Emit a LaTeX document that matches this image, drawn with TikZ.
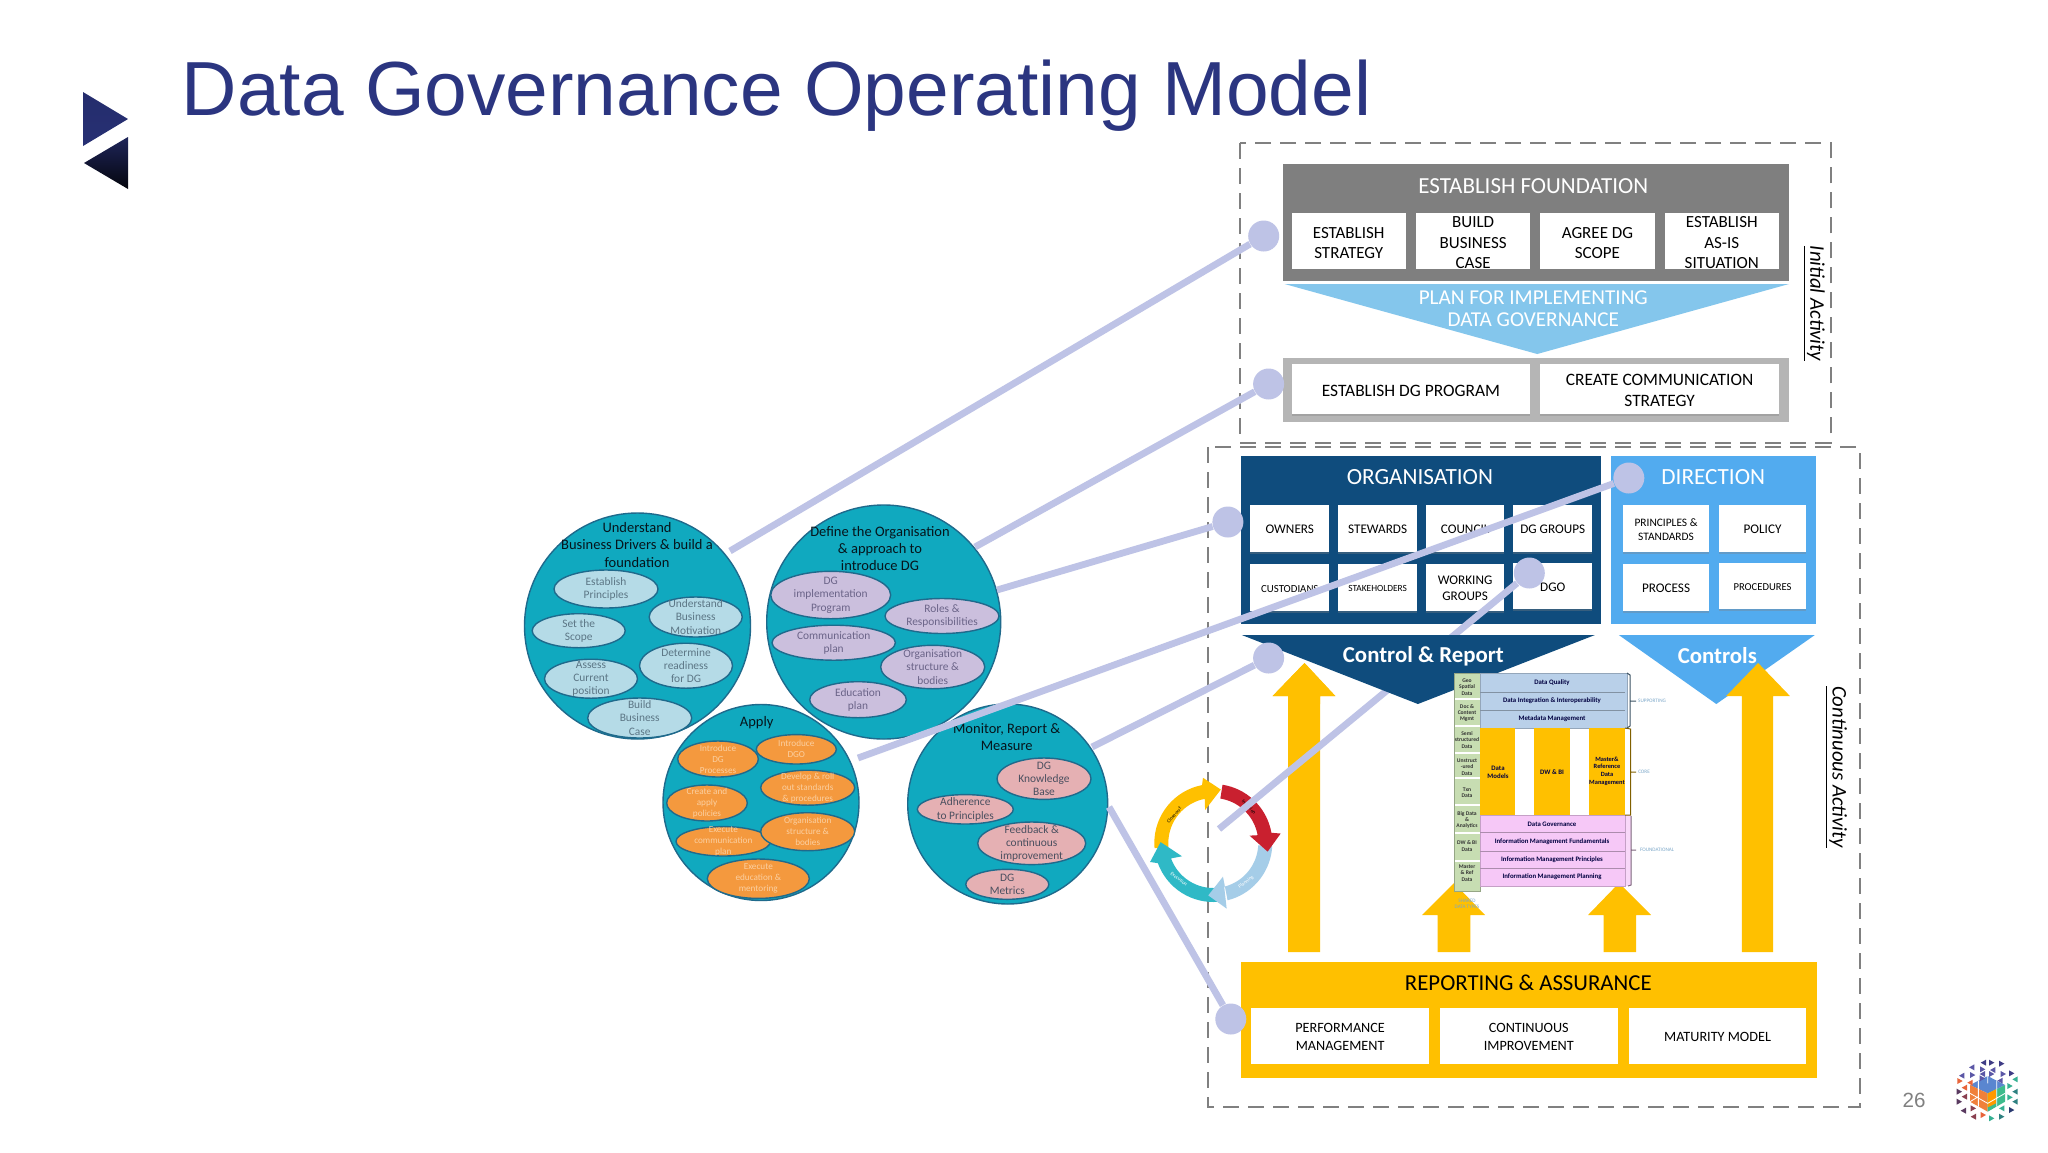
\documentclass[tikz,border=0pt]{standalone}
\usepackage{fontspec}
\setmainfont{Carlito}
\newfontfamily\arialf{Liberation Sans}
\usetikzlibrary{shapes.geometric,shadows}
\definecolor{tealc}{HTML}{10A9BF}
\definecolor{tealb}{HTML}{1F6A8C}
\definecolor{navyc}{HTML}{0F4C7D}
\definecolor{skyc}{HTML}{52ABEF}
\definecolor{pale}{HTML}{84C6EC}
\definecolor{yelc}{HTML}{FFC000}
\definecolor{lnk}{HTML}{BEC3E6}
\definecolor{titlec}{HTML}{2B3580}
\definecolor{greyd}{HTML}{7F7F7F}
\definecolor{greyl}{HTML}{B5B5B5}
\definecolor{dashc}{HTML}{808080}
\definecolor{steel}{HTML}{7BA7C9}
\definecolor{blk}{HTML}{B9D0E9}
\definecolor{pnk}{HTML}{F6C8F7}
\definecolor{grn}{HTML}{C7DDB2}
\definecolor{ap}{HTML}{3F3C85}
\definecolor{al}{HTML}{5B57A6}
\definecolor{ao}{HTML}{E8643A}
\definecolor{ar}{HTML}{8A4050}
\definecolor{ag}{HTML}{35B092}
\definecolor{ad}{HTML}{2E8080}
\definecolor{an}{HTML}{2A3A70}
\definecolor{am}{HTML}{5A3A60}
\definecolor{cubeb}{HTML}{5A86D0}
\definecolor{cubeo}{HTML}{F0803A}
\definecolor{cubeg}{HTML}{3DBB8C}
\definecolor{bA}{HTML}{B5DBE7}
\definecolor{bB}{HTML}{CBBFDD}
\definecolor{bC}{HTML}{F4993E}
\definecolor{bD}{HTML}{E5B0B3}
\definecolor{tA}{HTML}{5C7685}
\definecolor{tB}{HTML}{6B6488}
\definecolor{tC}{HTML}{FBCFA0}
\definecolor{tD}{HTML}{4A4F5F}
\definecolor{rteal}{HTML}{2FB9C6}
\definecolor{rred}{HTML}{C9202F}
\definecolor{rblue}{HTML}{A5CDE8}
\tikzset{
  ft/.style 2 args={font=\fontsize{#1pt}{#2pt}\selectfont},
  dashbox/.style={draw=dashc,line width=1pt,dash pattern=on 8pt off 4.5pt},
  wbox/.style={fill=white,drop shadow={opacity=.35,shadow xshift=0pt,shadow yshift=-0.8pt}},
  dot/.style={circle,fill=lnk,minimum size=15.5pt,inner sep=0pt},
  conn/.style={draw=lnk,line width=3.4pt},
  bigc/.style={circle,fill=tealc,draw=tealb,line width=.7pt,inner sep=0pt},
  bubA/.style={fill=#1,draw=tealb,line width=.7pt},
  ctitle/.style={ft={7.25}{8.7},text=black!80!tealb,align=center},
  txtA/.style={ft={5.7}{6.65},text=tA,align=center},
  txtB/.style={ft={5.7}{6.65},text=tB,align=center},
  txtC/.style={ft={4.6}{5.5},text=tC,align=center},
  txtD/.style={ft={5.7}{6.65},text=tD,align=center},
  tiny/.style={font=\bfseries\fontsize{3.4pt}{4pt}\selectfont,text=black!75!blue,align=center},
  tinyg/.style={font=\bfseries\fontsize{2.8pt}{3.15pt}\selectfont,text=black!80,align=center},
  side/.style={font=\fontsize{2.6pt}{3.2pt}\selectfont,text=steel,align=center},
}
\newcommand{\bxx}[8]{%
  \node[#6,minimum width={(#4-#2)*0.5pt},minimum height={(#5-#3)*0.5pt},inner sep=0pt] (#1) at ({(#2+#4)/2},{(#3+#5)/2}) {};
  \node[align=center,inner sep=0pt,yshift=-.6pt,#7] (#1t) at (#1) {#8};}
\newcommand{\bub}[8]{%
  \node[ellipse,bubA=#6,minimum width={#4*1pt},minimum height={#5*1pt},inner sep=0pt] (#1) at (#2,#3) {};
  \node[inner sep=0pt,#7] (#1t) at (#1) {#8};}
\newcommand{\ringarr}[9]{%
  \fill[#1] plot[domain=#2:#3,samples=18] ({1213.3+59*cos(\x)},{843-59*sin(\x)})
   -- ({1213.3+#4*cos(#5)},{843-#4*sin(#5)})
   -- ({1213.3+#6*cos(#7)},{843-#6*sin(#7)})
   -- ({1213.3+#8*cos(#9)},{843-#8*sin(#9)})
   -- plot[domain=#3:#2,samples=18] ({1213.3+45*cos(\x)},{843-45*sin(\x)}) -- cycle;}
% logo triangle in the logo scope: u v direction(+1 right,-1 left) colour
\newcommand{\tri}[4]{%
  \fill[#4] ({#1-#3*8},{#2-9}) -- ({#1+#3*8},{#2}) -- ({#1-#3*8},{#2+9}) -- cycle;}
\begin{document}
\begin{tikzpicture}[x=0.5pt,y=-0.5pt]
\useasboundingbox (0,0) rectangle (2048,1152);
\fill[white] (0,0) rectangle (2048,1152);
% logo top left
\shade[top color=titlec!85!black,bottom color=titlec!90!black] (83,92) -- (128,119) -- (83,146) -- cycle;
\shade[top color=titlec!70!black,bottom color=black!90!titlec] (128,137) -- (84,163) -- (128,189) -- cycle;
\node[font=\arialf\fontsize{38.35pt}{40pt}\selectfont,text=titlec,anchor=base west,inner sep=0pt] (title) at (181.5,115) {Data Governance Operating Model};
% dashed frames
\draw[dashbox] (1240.3,143) rectangle (1830.7,443);
\draw[dashbox] (1208,447) rectangle (1859.6,1107);
\node[rotate=-90,font=\itshape\fontsize{10.4pt}{12pt}\selectfont,inner sep=0pt] (lblinit) at (1814,303.5) {\underline{Initial Activity}};
\node[rotate=-90,font=\itshape\fontsize{10.4pt}{12pt}\selectfont,inner sep=0pt] (lblcont) at (1836,767) {\underline{Continuous Activity}};
% foundation
\bxx{found}{1282.6}{164}{1788.9}{281}{fill=greyd}{ft={11.5}{13},text=white}{}
\node[ft={11.5}{13},text=white,inner sep=0pt] (foundt2) at (1533.3,186) {ESTABLISH FOUNDATION};
\bxx{f1}{1291.5}{213}{1405.9}{269}{wbox}{ft={8.5}{10.25},yshift=-.5pt}{ESTABLISH\\STRATEGY}
\bxx{f2}{1415.9}{213}{1530.3}{269}{wbox}{ft={8.5}{10.25},yshift=-.4pt}{BUILD\\BUSINESS\\CASE}
\bxx{f3}{1540.2}{213}{1654.6}{269}{wbox}{ft={8.5}{10.25},yshift=-.5pt}{AGREE DG\\SCOPE}
\bxx{f4}{1664.6}{213}{1779}{269}{wbox}{ft={8.5}{10.25},yshift=-.4pt}{ESTABLISH\\AS-IS\\SITUATION}
\fill[pale] (1284.6,284) -- (1788.9,284) -- (1537.2,354) -- cycle;
\node[ft={10.6}{11},text=white,align=center,inner sep=0pt] (plan) at (1533.3,309) {PLAN FOR IMPLEMENTING\\DATA GOVERNANCE};
\bxx{prog}{1282.6}{358}{1788.9}{422}{fill=greyl}{ft={8}{9}}{}
\bxx{p1}{1291.5}{364}{1530.3}{414}{wbox}{ft={8.7}{10.25},yshift=-.6pt}{ESTABLISH DG PROGRAM}
\bxx{p2}{1540.2}{364}{1779}{414}{wbox}{ft={8.7}{10.45},yshift=-.2pt}{CREATE COMMUNICATION\\STRATEGY}
% organisation
\bxx{org}{1240.8}{456}{1600.9}{624}{fill=navyc}{ft={11.6}{13}}{}
\node[ft={11.6}{13},text=white,inner sep=0pt] (orgh) at (1419.9,477) {ORGANISATION};
\bxx{o1}{1250.3}{505}{1329.3}{552}{wbox}{ft={6.6}{8}}{OWNERS}
\bxx{o2}{1338.3}{505}{1416.9}{552}{wbox}{ft={6.6}{8}}{STEWARDS}
\bxx{o3}{1425.8}{505}{1504.4}{552}{wbox}{ft={6.6}{8}}{COUNCIL}
\bxx{o4}{1513.4}{505}{1592}{552}{wbox}{ft={6.6}{8}}{DG GROUPS}
\bxx{o5}{1250.3}{564}{1329.3}{611}{wbox}{ft={5.4}{7}}{CUSTODIANS}
\bxx{o6}{1338.3}{564}{1416.9}{611}{wbox}{ft={4.7}{6}}{STAKEHOLDERS}
\bxx{o7}{1425.8}{564}{1504.4}{611}{wbox}{ft={6.6}{8}}{WORKING\\GROUPS}
\bxx{o8}{1513.4}{563}{1592}{609}{wbox}{ft={6.6}{8}}{DGO}
% direction
\bxx{dir}{1610.9}{456}{1816.3}{624}{fill=skyc}{ft={11.6}{13}}{}
\node[ft={11.6}{13},text=white,inner sep=0pt] (dirh) at (1713.3,477) {DIRECTION};
\bxx{d1}{1622.8}{505}{1709.3}{552}{wbox}{ft={5.7}{6.6}}{PRINCIPLES \&\\STANDARDS}
\bxx{d2}{1719.3}{505}{1805.8}{552}{wbox}{ft={6.6}{8}}{POLICY}
\bxx{d3}{1622.8}{564}{1709.3}{611}{wbox}{ft={6.6}{8}}{PROCESS}
\bxx{d4}{1719.3}{563}{1805.8}{609}{wbox}{ft={5.3}{7}}{PROCEDURES}
% yellow arrows
\fill[yelc] (1288.1,952) -- (1288.1,696) -- (1272.6,696) -- (1304.5,663) -- (1335.3,696) -- (1320,696) -- (1320,952) -- cycle;
\fill[skyc] (1618.8,635) -- (1814.8,635) -- (1716.3,704) -- cycle;
\fill[yelc] (1741.8,952) -- (1741.8,696) -- (1726.2,696) -- (1758.1,663) -- (1789.9,696) -- (1773,696) -- (1773,952) -- cycle;
\fill[yelc] (1437.5,952) -- (1437.5,915) -- (1422,915) -- (1454,883) -- (1485,915) -- (1470.3,915) -- (1470.3,952) -- cycle;
\fill[yelc] (1603.5,952) -- (1603.5,915) -- (1588,915) -- (1619,883) -- (1651,915) -- (1636,915) -- (1636,952) -- cycle;
% ring
\ringarr{yelc}{185}{101}{66}{99}{54}{82}{34}{104}
\ringarr{rteal}{-80}{-160}{66}{-163.3}{52.7}{179}{34}{-157}
\ringarr{rblue}{-3}{-76}{35}{-74}{52.6}{-95.5}{67}{-78.5}
\ringarr{rred}{81}{10}{68}{8}{55}{-9}{37}{11.5}
\node[rotate=50,font=\fontsize{2.5pt}{3pt}\selectfont,inner sep=0pt] (r1) at (1174,815) {Close-out};
\node[rotate=-48,font=\fontsize{2.5pt}{3pt}\selectfont,inner sep=0pt] (r2) at (1249,807) {Initiation};
\node[rotate=-38,font=\fontsize{2.5pt}{3pt}\selectfont,text=white,inner sep=0pt] (r3) at (1179,879) {Execution};
\node[rotate=38,font=\fontsize{2.5pt}{3pt}\selectfont,text=white,inner sep=0pt] (r4) at (1246,882) {Planning};
% connector that runs behind the Control & Report triangle
\node[dot] (d6n) at (1529.3,573) {};
\coordinate (e6n) at (1219,829);
\draw[conn] (d6n) -- (e6n);
\fill[navyc] (1241.8,635) -- (1594.9,635) -- (1417.9,704) -- cycle;
\fill[yelc] (1288.1,704) -- (1288.1,696) -- (1272.6,696) -- (1304.5,663) -- (1335.3,696) -- (1320,696) -- (1320,704) -- cycle;
\node[font=\bfseries\fontsize{11.4pt}{13pt}\selectfont,text=white,inner sep=0pt] (ctl1) at (1423.3,656) {Control \& Report};
\node[font=\bfseries\fontsize{11.4pt}{13pt}\selectfont,text=white,inner sep=0pt] (ctl2) at (1717.3,656) {Controls};
% centre framework
\fill[grn,draw=grn!75!black,line width=.4pt] (1454,673) rectangle (1480,891);
\foreach \yy in {699,726,753,778,805,833,861}{\draw[white,line width=.7pt] (1455,\yy) -- (1480,\yy);}
\fill[blk,draw=blk!80!black,line width=.4pt] (1480,673) rectangle (1627,728);
\draw[blk!70!black,line width=.4pt] (1480,692) -- (1625,692) (1480,710) -- (1625,710);
\fill[yelc] (1480,728) rectangle (1515,815);
\fill[yelc] (1534,728) rectangle (1570,815);
\fill[yelc] (1589,728) rectangle (1625,815);
\fill[pnk!70!white] (1625,815) rectangle (1631,886);
\fill[pnk,draw=pnk!80!black,line width=.4pt] (1480,815) rectangle (1625,886);
\draw[pnk!70!black,line width=.4pt] (1480,832) -- (1625,832) (1480,851) -- (1625,851) (1480,868) -- (1625,868);
\draw[black!50!steel,line width=.5pt] (1627,673) -- (1630,675) -- (1630,726) -- (1627,728) (1630,701) -- (1636,701);
\draw[black!50!yelc,line width=.5pt] (1625,728) -- (1630.5,729) -- (1630.5,815) -- (1625,815) (1630.5,772) -- (1636,772);
\draw[black!50!pnk,line width=.5pt] (1631,816) -- (1631,885) -- (1628,886) (1631,850) -- (1636,850);
\node[side] (ssup) at (1652,701) {SUPPORTING};
\node[side] (score) at (1644,772) {CORE};
\node[side] (sfou) at (1657,850) {FOUNDATIONAL};
\node[side,text=steel] (sshr) at (1467,904) {SHARED\\DATA TYPES};
\node[tinyg] (g1) at (1467,687) {Geo\\Spatial\\Data};
\node[tinyg] (g2) at (1467,713) {Doc \&\\Content\\Mgmt};
\node[tinyg] (g3) at (1467,740) {Semi\\structured\\Data};
\node[tinyg] (g4) at (1467,767) {Unstruct\\-ured\\Data};
\node[tinyg] (g5) at (1467,793) {Txn\\Data};
\node[tinyg] (g6) at (1467,820) {Big Data\\\&\\Analytics};
\node[tinyg] (g7) at (1467,846) {DW \& BI\\Data};
\node[tinyg] (g8) at (1467,873) {Master\\\& Ref\\Data};
\node[tiny] (b1) at (1552,683) {Data Quality};
\node[tiny] (b2) at (1552,701) {Data Integration \& Interoperability};
\node[tiny] (b3) at (1552,719) {Metadata Management};
\node[tiny] (y1) at (1498,772) {Data\\Models};
\node[tiny] (y2) at (1552,772) {DW \& BI};
\node[tiny,font=\bfseries\fontsize{3.2pt}{3.8pt}\selectfont] (y3) at (1607,771) {Master\&\\Reference\\Data\\Management};
\node[tiny] (k1) at (1552,824) {Data Governance};
\node[tiny] (k2) at (1552,842) {Information Management Fundamentals};
\node[tiny] (k3) at (1552,860) {Information Management Principles};
\node[tiny] (k4) at (1552,877) {Information Management Planning};
% reporting
\bxx{rep}{1241}{962}{1816.5}{1078}{fill=yelc}{ft={8}{9}}{}
\node[ft={11.4}{13},text=black,inner sep=0pt] (rept) at (1528.3,983) {REPORTING \& ASSURANCE};
\bxx{r1b}{1251.4}{1007.7}{1428.8}{1063.7}{fill=white}{ft={7.1}{9}}{PERFORMANCE\\MANAGEMENT}
\bxx{r2b}{1440.1}{1007.7}{1617.5}{1063.7}{fill=white}{ft={7.1}{9}}{CONTINUOUS\\IMPROVEMENT}
\bxx{r3b}{1628.9}{1007.7}{1806.3}{1063.7}{fill=white}{ft={7.1}{9}}{MATURITY MODEL}
% circles
\node[bigc,minimum size=113pt] (c1) at (637.5,626) {};
\node[bigc,minimum size=117pt] (c2) at (883.7,622) {};
\node[bigc,minimum size=98pt] (c3) at (761,802.5) {};
\node[bigc,minimum size=100pt] (c4) at (1007.7,804) {};
\node[ctitle,inner sep=0pt] (c1t) at (637,545) {Understand\\Business Drivers \& build a\\foundation};
\node[ctitle,inner sep=0pt] (c2t) at (880,548.5) {Define the Organisation\\\& approach to\\introduce DG};
\node[ctitle,inner sep=0pt] (c3t) at (756.7,723) {Apply};
\node[ctitle,inner sep=0pt] (c4t) at (1006.7,737) {Monitor, Report \&\\Measure};
\bub{a1}{606}{589}{52}{19}{bA}{txtA}{Establish\\Principles}
\bub{a2}{695.7}{617}{46.5}{20}{bA}{txtA}{Understand\\Business\\Motivation}
\bub{a3}{578.7}{630.7}{46.5}{17}{bA}{txtA}{Set the\\Scope}
\bub{a4}{686}{665.7}{46.5}{22.5}{bA}{txtA}{Determine\\readiness\\for DG}
\bub{a5}{591}{678.7}{46.5}{19.5}{bA}{txtA}{Assess\\Current\\position}
\bub{a6}{639.7}{718}{52}{20}{bA}{txtA}{Build\\Business\\Case}
\bub{b1e}{830.7}{595}{60}{23.7}{bB}{txtB}{DG\\implementation\\Program}
\bub{b2e}{942}{616}{57}{17.5}{bB}{txtB}{Roles \&\\Responsibilities}
\bub{b3e}{833.7}{642.7}{61.7}{17.5}{bB}{txtB}{Communication\\plan}
\bub{b4e}{932.7}{667}{52}{21.7}{bB}{txtB}{Organisation\\structure \&\\bodies}
\bub{b5e}{858}{699.7}{48.3}{18}{bB}{txtB}{Education\\plan}
\bub{e1}{718}{759}{40.3}{18}{bC}{txtC}{Introduce\\DG\\Processes}
\bub{e2}{796.3}{749.3}{40}{14.7}{bC}{txtC}{Introduce\\DGO}
\bub{e3}{807.7}{787.7}{47}{17.5}{bC}{txtC}{Develop \& roll\\out standards\\\& procedures}
\bub{e4}{707}{803}{40.3}{18}{bC}{txtC}{Create and\\apply\\policies}
\bub{e6}{723.3}{841.3}{47.3}{14.7}{bC}{txtC}{Execute\\communication\\plan}
\bub{e5}{807.7}{831.7}{47}{19}{bC}{txtC}{Organisation\\structure \&\\bodies}
\bub{e7}{758.3}{878.7}{51}{19.7}{bC}{txtC}{Execute\\education \&\\mentoring}
\bub{m1}{1044}{778.7}{47}{20.7}{bD}{txtD}{DG\\Knowledge\\Base}
\bub{m2}{965.3}{809.3}{48}{14.7}{bD}{txtD}{Adherence\\to Principles}
\bub{m3}{1031.7}{843.3}{54}{21.3}{bD}{txtD}{Feedback \&\\continuous\\improvement}
\bub{m4}{1007.3}{884.3}{41.5}{15}{bD}{txtD}{DG\\Metrics}
% connectors
\node[dot] (d1n) at (1263.7,236) {};
\node[dot] (d2n) at (1268.6,384) {};
\node[dot] (d3n) at (1227.9,522) {};
\node[dot] (d4n) at (1628.8,478) {};
\node[dot] (d5n) at (1268.6,658) {};
\node[dot] (d7n) at (1230.8,1019) {};
\coordinate (e1n) at (730,551);
\coordinate (e2n) at (975,547);
\coordinate (e3n) at (997,590);
\coordinate (e4n) at (858,758);
\coordinate (e5n) at (1092,747);
\coordinate (e7n) at (1109,807);
\draw[conn] (d1n) -- (e1n);
\draw[conn] (d2n) -- (e2n);
\draw[conn] (d3n) -- (e3n);
\draw[conn] (d4n) -- (e4n);
\draw[conn] (d5n) -- (e5n);
\draw[conn] (d7n) -- (e7n);
% page number
\node[font=\arialf\fontsize{10.3pt}{12pt}\selectfont,text=black!50,inner sep=0pt] (pg) at (1914,1100) {26};
% logo bottom right
\begin{scope}[shift={(1950,1050)},x=0.16667pt,y=-0.16667pt]
\fill[cubeb] (113,78) -- (165,105) -- (113,130) -- (60,105) -- cycle;
\fill[cubeo] (60,105) -- (113,130) -- (113,185) -- (60,155) -- cycle;
\fill[cubeg] (165,105) -- (113,130) -- (113,185) -- (165,155) -- cycle;
\fill[orange!80!yellow] (113,130) -- (138,118) -- (138,160) -- (113,172) -- cycle;
\draw[white,line width=.4pt] (60,130) -- (113,160) -- (165,130) (85,92) -- (85,170) (140,92) -- (140,170) (113,78) -- (113,100) (60,155) -- (85,140);
\foreach \u/\v/\d/\c in {100/38/-1/ap,125/38/1/ap,155/41/1/ap,
  65/52/-1/al,98/58/1/al,128/60/-1/al,160/72/1/al,
  35/77/-1/al,68/75/1/al,97/72/-1/al,125/72/1/al,185/70/1/ap,
  150/92/-1/al,97/85/1/al,
  30/93/1/ao,60/98/-1/ao,195/88/-1/ag,
  180/108/1/ag,43/113/-1/ao,
  28/125/1/am,195/125/-1/ad,
  43/140/-1/ar,180/142/1/ag,
  28/155/1/am,195/155/-1/ad,
  40/182/-1/am,70/175/1/ar,155/175/-1/ag,185/180/1/an,
  70/200/-1/ar,100/195/1/ao,125/205/1/ag,155/200/1/ad}{\tri{\u}{\v}{\d}{\c}}
\end{scope}
\end{tikzpicture}
\end{document}
